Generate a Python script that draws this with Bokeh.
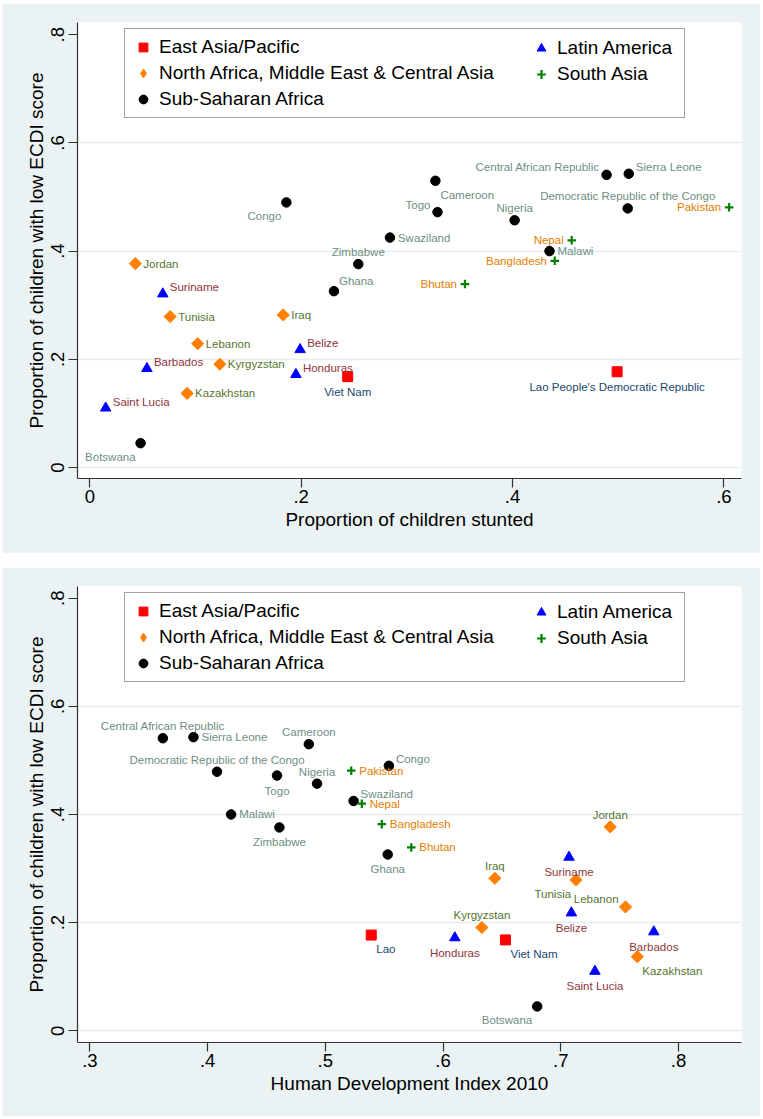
import math
from bokeh.plotting import figure
from bokeh.models import (ColumnDataSource, Range1d, FixedTicker, Legend, LegendItem,
                          CustomJSTickFormatter)
from bokeh.layouts import column
from bokeh.embed import file_html
from bokeh.resources import INLINE
from bokeh.core.properties import value

# ---------------- data ----------------
countries = ["Congo", "Jordan", "Zimbabwe", "Cameroon", "Central African Republic",
             "Sierra Leone", "Democratic Republic of the Congo", "Pakistan", "Togo",
             "Nigeria", "Swaziland", "Nepal", "Malawi", "Bangladesh", "Bhutan",
             "Lao People's Democratic Republic", "Ghana", "Suriname", "Tunisia", "Iraq",
             "Lebanon", "Belize", "Barbados", "Kyrgyzstan", "Honduras", "Viet Nam",
             "Kazakhstan", "Saint Lucia", "Botswana"]
labels_bottom = ["Congo", "Jordan", "Zimbabwe", "Cameroon", "Central African Republic",
                 "Sierra Leone", "Democratic Republic of the Congo", "Pakistan", "Togo",
                 "Nigeria", "Swaziland", "Nepal", "Malawi", "Bangladesh", "Bhutan",
                 "Lao", "Ghana", "Suriname", "Tunisia", "Iraq",
                 "Lebanon", "Belize", "Barbados", "Kyrgyzstan", "Honduras", "Viet Nam",
                 "Kazakhstan", "Saint Lucia", "Botswana"]
regions = ["SSA", "NAMECA", "SSA", "SSA", "SSA",
           "SSA", "SSA", "SA", "SSA",
           "SSA", "SSA", "SA", "SSA", "SA", "SA",
           "EAP", "SSA", "LA", "NAMECA", "NAMECA",
           "NAMECA", "LA", "LA", "NAMECA", "LA", "EAP",
           "NAMECA", "LA", "SSA"]
stunting = [0.186, 0.043, 0.254, 0.327, 0.489,
            0.510, 0.509, 0.605, 0.329,
            0.402, 0.284, 0.456, 0.435, 0.440, 0.355,
            0.499, 0.231, 0.069, 0.076, 0.183,
            0.102, 0.199, 0.054, 0.123, 0.195, 0.244,
            0.092, 0.015, 0.048]
hdi = [0.554, 0.742, 0.461, 0.486, 0.362,
       0.388, 0.408, 0.522, 0.459,
       0.493, 0.524, 0.531, 0.420, 0.548, 0.573,
       0.539, 0.553, 0.707, 0.713, 0.644,
       0.755, 0.709, 0.779, 0.633, 0.610, 0.653,
       0.765, 0.729, 0.680]
ecdi = [0.490, 0.377, 0.376, 0.530, 0.541,
        0.543, 0.479, 0.481, 0.472,
        0.457, 0.425, 0.420, 0.400, 0.382, 0.339,
        0.177, 0.326, 0.321, 0.279, 0.282,
        0.229, 0.218, 0.183, 0.191, 0.172, 0.168,
        0.137, 0.110, 0.045]
# label clock positions (Stata mlabvposition)
pos_top = [7, 3, 12, 4, 10,
           2, 12, 9, 10,
           12, 3, 9, 3, 9, 9,
           6, 1, 2, 3, 3,
           3, 2, 2, 3, 2, 6,
           3, 2, 7]
pos_bottom = [2, 12, 6, 12, 12,
              3, 12, 3, 6,
              12, 2, 3, 3, 3, 3,
              4, 6, 6, 7, 12,
              10, 6, 6, 12, 6, 4,
              4, 6, 7]

region_keys = ["EAP", "NAMECA", "SSA", "LA", "SA"]
region_names = {"EAP": "East Asia/Pacific",
                "NAMECA": "North Africa, Middle East & Central Asia",
                "SSA": "Sub-Saharan Africa",
                "LA": "Latin America",
                "SA": "South Asia"}
x_ticks_top = [0, 0.2, 0.4, 0.6]
x_ticks_bottom = [0.3, 0.4, 0.5, 0.6, 0.7, 0.8]
y_ticks = [0, 0.2, 0.4, 0.6, 0.8]

# ---------------- style ----------------
FONT = "Liberation Sans"
BG = "#eaf2f3"
marker_style = {
    "EAP": dict(marker="square", size=10, angle=0, fill="#ff0000", line="#ff0000", lw=1),
    "NAMECA": dict(marker="square", size=8.6, angle=math.pi / 4, fill="#ff7f00", line="#ff7f00", lw=1),
    "SSA": dict(marker="circle", size=9.5, angle=0, fill="#000000", line="#000000", lw=1),
    "LA": dict(marker="triangle", size=10.5, angle=0, fill="#0000ff", line="#0000ff", lw=1),
    "SA": dict(marker="cross", size=8.5, angle=0, fill="#008000", line="#008000", lw=2.2),
}
label_color = {"EAP": "#1a476f", "LA": "#90353b", "NAMECA": "#55752f",
               "SA": "#e37e00", "SSA": "#6e8e84"}
POS = {3: (8, 0, "left"), 9: (-8, 0, "right"), 12: (0, -12, "center"),
       6: (0, 15, "center"), 2: (7, -6.5, "left"), 1: (5, -10, "left"),
       10: (-7, -7.5, "right"), 4: (5, 14, "left"), 7: (-5, 14, "right")}

fmt = CustomJSTickFormatter(code="""
const s = tick.toFixed(1);
if (s === '0.0') return '0';
return s.replace(/^0/, '');
""")


def make_panel(xvals, labels, positions, xr, yr, xticks, xtitle, height, btop, bbot):
    p = figure(width=758, height=height, x_range=Range1d(*xr), y_range=Range1d(*yr),
               output_backend="svg", toolbar_location=None,
               min_border_left=75, min_border_right=19,
               min_border_top=btop, min_border_bottom=bbot)
    p.border_fill_color = BG
    p.background_fill_color = "white"
    p.outline_line_color = None

    p.xgrid.visible = False
    p.ygrid.ticker = FixedTicker(ticks=[0, 0.2, 0.4, 0.6])
    p.ygrid.grid_line_color = "#e4ecee"
    p.ygrid.grid_line_width = 1.5

    p.xaxis.ticker = FixedTicker(ticks=xticks)
    p.yaxis.ticker = FixedTicker(ticks=y_ticks)
    p.xaxis.formatter = fmt
    p.yaxis.formatter = fmt
    p.yaxis.major_label_orientation = "vertical"
    p.xaxis.axis_label = xtitle
    p.yaxis.axis_label = "Proportion of children with low ECDI score"
    for ax in (p.xaxis, p.yaxis):
        ax.axis_line_color = "#333333"
        ax.axis_line_width = 1.2
        ax.major_tick_line_color = "#333333"
        ax.major_tick_line_width = 1.2
        ax.major_tick_out = 9
        ax.major_tick_in = 0
        ax.minor_tick_out = 0
        ax.minor_tick_in = 0
        ax.major_label_text_font = FONT
        ax.major_label_text_font_size = "18.5px"
        ax.major_label_text_color = "black"
        ax.axis_label_text_font = FONT
        ax.axis_label_text_font_size = "19px"
        ax.axis_label_text_font_style = "normal"
        ax.axis_label_text_color = "black"
    p.xaxis.major_label_standoff = 2
    p.xaxis.axis_label_standoff = 3
    p.yaxis.major_label_standoff = 4
    p.yaxis.axis_label_standoff = 2

    legend_renderers = {}
    for key in region_keys:
        idx = [i for i, r in enumerate(regions) if r == key]
        st = marker_style[key]
        src = ColumnDataSource(dict(x=[xvals[i] for i in idx], y=[ecdi[i] for i in idx]))
        if key == "NAMECA":
            # narrow diamond under the rotated squares: used as legend swatch,
            # fully hidden beneath the plotted diamonds
            legend_renderers[key] = p.scatter("x", "y", source=src, marker="diamond", size=9,
                                              fill_color=st["fill"], line_color=st["line"])
        r = p.scatter("x", "y", source=src, marker=st["marker"], size=st["size"],
                      angle=st["angle"], fill_color=st["fill"], line_color=st["line"],
                      line_width=st["lw"])
        if key != "NAMECA":
            legend_renderers[key] = r

    for align in ("left", "right", "center"):
        idx = [i for i in range(len(countries)) if POS[positions[i]][2] == align]
        src = ColumnDataSource(dict(
            x=[xvals[i] for i in idx], y=[ecdi[i] for i in idx],
            t=[labels[i] for i in idx],
            dx=[POS[positions[i]][0] for i in idx],
            dy=[POS[positions[i]][1] for i in idx],
            c=[label_color[regions[i]] for i in idx]))
        p.text("x", "y", text="t", source=src, x_offset="dx", y_offset="dy",
               text_color="c", text_font=value(FONT), text_font_size="11.5px",
               text_align=align, text_baseline="middle")

    def legend(keys, loc, lw, border):
        lg = Legend(items=[LegendItem(label=region_names[k], renderers=[legend_renderers[k]])
                           for k in keys],
                    location=loc, orientation="vertical",
                    glyph_width=22, glyph_height=22, label_height=22, label_width=lw,
                    label_standoff=5, spacing=4, padding=7, margin=0,
                    label_text_font=FONT, label_text_font_size="19px",
                    label_text_color="black")
        if border:
            lg.border_line_color = "#444444"
            lg.border_line_width = 1.2
            lg.background_fill_color = "white"
            lg.background_fill_alpha = 1
        else:
            lg.border_line_color = None
            lg.background_fill_alpha = 0
        return lg

    fh = height - btop - bbot
    p.add_layout(legend(["EAP", "NAMECA", "SSA"], (47, fh - 7 - 89), 518, True))
    p.add_layout(legend(["LA", "SA"], (453, fh - 63), 20, False))
    return p


p1 = make_panel(stunting, countries, pos_top, (-0.0117, 0.6167), (-0.0203, 0.8226),
                x_ticks_top, "Proportion of children stunted", 550, 19, 75)
p2 = make_panel(hdi, labels_bottom, pos_bottom, (0.2895, 0.8535), (-0.0217, 0.8216),
                x_ticks_bottom, "Human Development Index 2010", 549, 19, 74)

layout = column(p1, p2, spacing=14, margin=(3, 0, 0, 2))
open("out.html", "w").write(file_html(layout, INLINE))
